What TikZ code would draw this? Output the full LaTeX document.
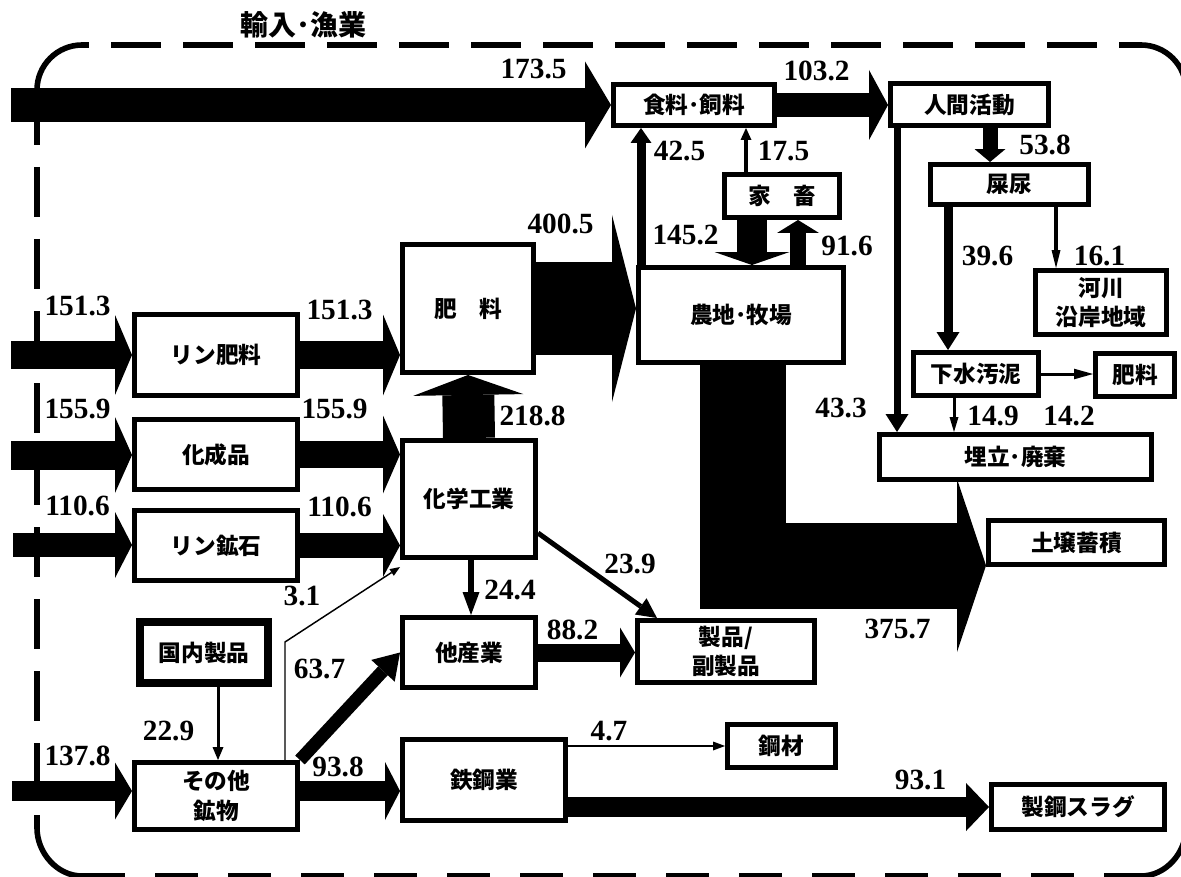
\documentclass[tikz,border=0pt]{standalone}
\usepackage{fontspec}
\newfontfamily\jp{Noto Sans CJK JP}
\newfontfamily\numf{Liberation Serif}
\usetikzlibrary{arrows.meta,calc}
\tikzset{
  box/.style={draw, line width=4.1pt, fill=white, inner sep=0pt, align=center,
    font={\jp\bfseries\fontsize{17pt}{22pt}\selectfont}},
  num/.style={inner sep=0pt, font={\numf\bfseries\fontsize{22pt}{24pt}\selectfont}},
  fat/.style n args={3}{line width=#1pt, -{Triangle[length=#2pt,width=#3pt,line width=0pt]}},
  bnd/.style={line width=4.2pt},
}
\newcommand\mkbox[6]{\node[box, minimum width={(#4-#2-5.5)*0.75pt}, minimum height={(#5-#3-5.5)*0.75pt}] (#1) at ({(#2+#4)/2},{(#3+#5)/2}) {#6};}
\begin{document}
\begin{tikzpicture}[x=0.75pt,y=-0.75pt]
\useasboundingbox (0,0) rectangle (1181,877);
\clip (0,0) rectangle (1181,877);
% boundary
\draw[bnd] (37,90) .. controls (37,65.2) and (57.2,45) .. (82,45);
\draw[bnd] (1141,45) .. controls (1165.8,45) and (1186,65.2) .. (1186,90);
\draw[bnd] (1186,828) .. controls (1186,852.8) and (1165.8,876) .. (1141,876);
\draw[bnd] (82,876) .. controls (57.2,876) and (37,852.8) .. (37,828);
\draw[bnd, dash pattern=on 37.5pt off 16.5pt, dash phase=32.25pt] (82,45) -- (1141,45);
\draw[bnd, dash pattern=on 37.5pt off 16.5pt, dash phase=50.25pt] (37,90) -- (37,828);
\draw[bnd, dash pattern=on 32.25pt off 22.5pt] (82,876) -- (1141,876);
\node[inner sep=0pt, font={\jp\bfseries\fontsize{21pt}{24pt}\selectfont}] (title) at (303,25) {輸入･漁業};
% boxes
\mkbox{food}{611}{82}{777}{128}{食料･飼料}
\mkbox{human}{888}{81}{1051}{128}{人間活動}
\mkbox{live}{722}{172}{842}{220}{家　畜}
\mkbox{nyo}{928}{162}{1091}{207}{屎尿}
\mkbox{river}{1033}{268}{1169}{337}{河川\\沿岸地域}
\mkbox{fert}{400}{242}{536}{375}{肥　料}
\mkbox{farm}{636}{265}{846}{365}{農地･牧場}
\mkbox{sewage}{911}{350}{1041}{398}{下水汚泥}
\mkbox{fert2}{1093}{351}{1177}{399}{肥料}
\mkbox{landfill}{877}{432}{1154}{482}{埋立･廃棄}
\mkbox{soil}{986}{518}{1167}{567}{土壌蓄積}
\mkbox{rinf}{132}{312}{300}{398}{リン肥料}
\mkbox{kasei}{132}{417}{300}{492}{化成品}
\mkbox{rinko}{132}{508}{300}{583}{リン鉱石}
\mkbox{chem}{400}{438}{538}{560}{化学工業}
\mkbox{work}{400}{615}{538}{690}{他産業}
\mkbox{prod}{635}{618}{817}{685}{製品/\\副製品}
\node[box, line width=6.2pt, minimum width={(272-136-8.3)*0.75pt}, minimum height={(687-618-8.3)*0.75pt}] (dom) at (204,652.5) {国内製品};
\mkbox{other}{132}{760}{300}{832}{その他\\鉱物}
\mkbox{steel}{400}{737}{568}{823}{鉄鋼業}
\mkbox{kozai}{725}{722}{838}{770}{鋼材}
\mkbox{slag}{989}{782}{1167}{832}{製鋼スラグ}
% free ends
\coordinate (s173) at (11,105);
\coordinate (s151) at (11,355);
\coordinate (s155) at (11,455);
\coordinate (s110) at (13,545);
\coordinate (s137) at (12,791);
\coordinate (t31) at (400,567);
\coordinate (k31) at (285,642);
\coordinate (bend) at (743,565.5);
% arrows
\draw[fat={25.5}{19.5}{65.25}] (s173) -- (s173 -| food.west);
\draw[fat={18}{14.25}{52.5}] (food.east) -- (food.east -| human.west);
\draw[fat={69}{18}{140.25}] (fert.east) -- (fert.east -| farm.west);
\draw[fat={21}{12.75}{60}] (s151) -- (s151 -| rinf.west);
\draw[fat={21.75}{12.75}{57}] (s155) -- (s155 -| kasei.west);
\draw[fat={18}{12.75}{49.5}] (s110) -- (s110 -| rinko.west);
\draw[fat={15}{12.75}{42.75}] (s137) -- (s137 -| other.west);
\draw[fat={21}{12.75}{60.75}] (rinf.east) -- (rinf.east -| fert.west);
\draw[fat={20.25}{12.75}{58.5}] (kasei.east) -- (kasei.east -| chem.west);
\draw[fat={18.75}{12.75}{47.25}] (rinko.east) -- (rinko.east -| chem.west);
\draw[fat={39}{15}{82.5}] (chem.north) -- (fert.south);
\draw[fat={15}{11.25}{43.5}] (other.east |- s137) -- (steel.west |- s137);
\draw[fat={13.5}{11.25}{37.5}] (work.east) -- (work.east -| prod.west);
\draw[fat={15}{17.25}{36}] (steel.east |- slag.west) -- (slag.west);
\draw[fat={22.5}{9.75}{56.25}] (752,0 |- live.south) -- (752,0 |- farm.north);
\draw[fat={12}{9.75}{31.5}] (798,0 |- farm.north) -- (798,0 |- live.south);
\draw[fat={6.75}{11.25}{15.75}] (641,0 |- farm.north) -- (641,0 |- food.south);
\draw[fat={3}{9}{8.25}] (746,0 |- live.north) -- (746,0 |- food.south);
\draw[fat={11.25}{9.75}{23.25}] (990,0 |- human.south) -- (990,0 |- nyo.north);
\draw[fat={6.75}{13.5}{17.25}] (948,0 |- nyo.south) -- (948,0 |- sewage.north);
\draw[fat={3}{13.5}{6.75}] (1056,0 |- nyo.south) -- (1056,0 |- river.north);
\draw[fat={5.25}{13.5}{17.25}] (897,0 |- human.south) -- (897,0 |- landfill.north);
\draw[fat={2.25}{11.25}{6.75}] (954,0 |- sewage.south) -- (954,0 |- landfill.north);
\draw[fat={2.25}{14.25}{8}] (sewage.east) -- (sewage.east -| fert2.west);
\draw[fat={4.5}{17.25}{12.75}] (471,0 |- chem.south) -- (471,0 |- work.north);
\draw[fat={3.75}{15}{15}] (chem.east |- 0,533) -- (657,0 |- prod.north);
\draw[fat={2.25}{9.75}{8.25}] (218,0 |- dom.south) -- (218,0 |- other.north);
\draw[fat={9.75}{18.75}{24}] (other.north east) -- (work.west);
\draw[fat={1.1}{7.5}{6}] (285,0 |- other.north) -- (k31) -- (t31);
\draw[fat={1.1}{9}{6.75}] (steel.east |- kozai.west) -- (kozai.west);
\draw[fat={64.5}{21.75}{129.75}, line join=miter] (743,0 |- farm.south) -- (bend) -- (bend -| soil.west);
% labels
\node[num] (l1735) at (533.5,69) {173.5};
\node[num] (l1032) at (816.5,71) {103.2};
\node[num] (l425) at (679.5,151) {42.5};
\node[num] (l175) at (783.5,151) {17.5};
\node[num] (l538) at (1045,145) {53.8};
\node[num] (l1452) at (685.5,235) {145.2};
\node[num] (l916) at (847,246) {91.6};
\node[num] (l4005) at (560.5,224) {400.5};
\node[num] (l396) at (987.5,256) {39.6};
\node[num] (l161) at (1099.5,256) {16.1};
\node[num] (l1513a) at (77.5,306) {151.3};
\node[num] (l1513b) at (339.5,310) {151.3};
\node[num] (l1559a) at (77.5,408.5) {155.9};
\node[num] (l1559b) at (334.5,409) {155.9};
\node[num] (l1106a) at (77.5,506) {110.6};
\node[num] (l1106b) at (339.5,507) {110.6};
\node[num] (l2188) at (532.5,416) {218.8};
\node[num] (l433) at (841,408) {43.3};
\node[num] (l149) at (993,416) {14.9};
\node[num] (l142) at (1069,416) {14.2};
\node[num] (l244) at (510,590) {24.4};
\node[num] (l239) at (630,564) {23.9};
\node[num] (l31) at (302,596) {3.1};
\node[num] (l3757) at (897.5,629) {375.7};
\node[num] (l882) at (572.5,630) {88.2};
\node[num] (l637) at (319.5,669) {63.7};
\node[num] (l229) at (168.5,731) {22.9};
\node[num] (l1378) at (77.5,756) {137.8};
\node[num] (l938) at (338,767) {93.8};
\node[num] (l47) at (609,731) {4.7};
\node[num] (l931) at (920.5,780) {93.1};
\end{tikzpicture}
\end{document}
